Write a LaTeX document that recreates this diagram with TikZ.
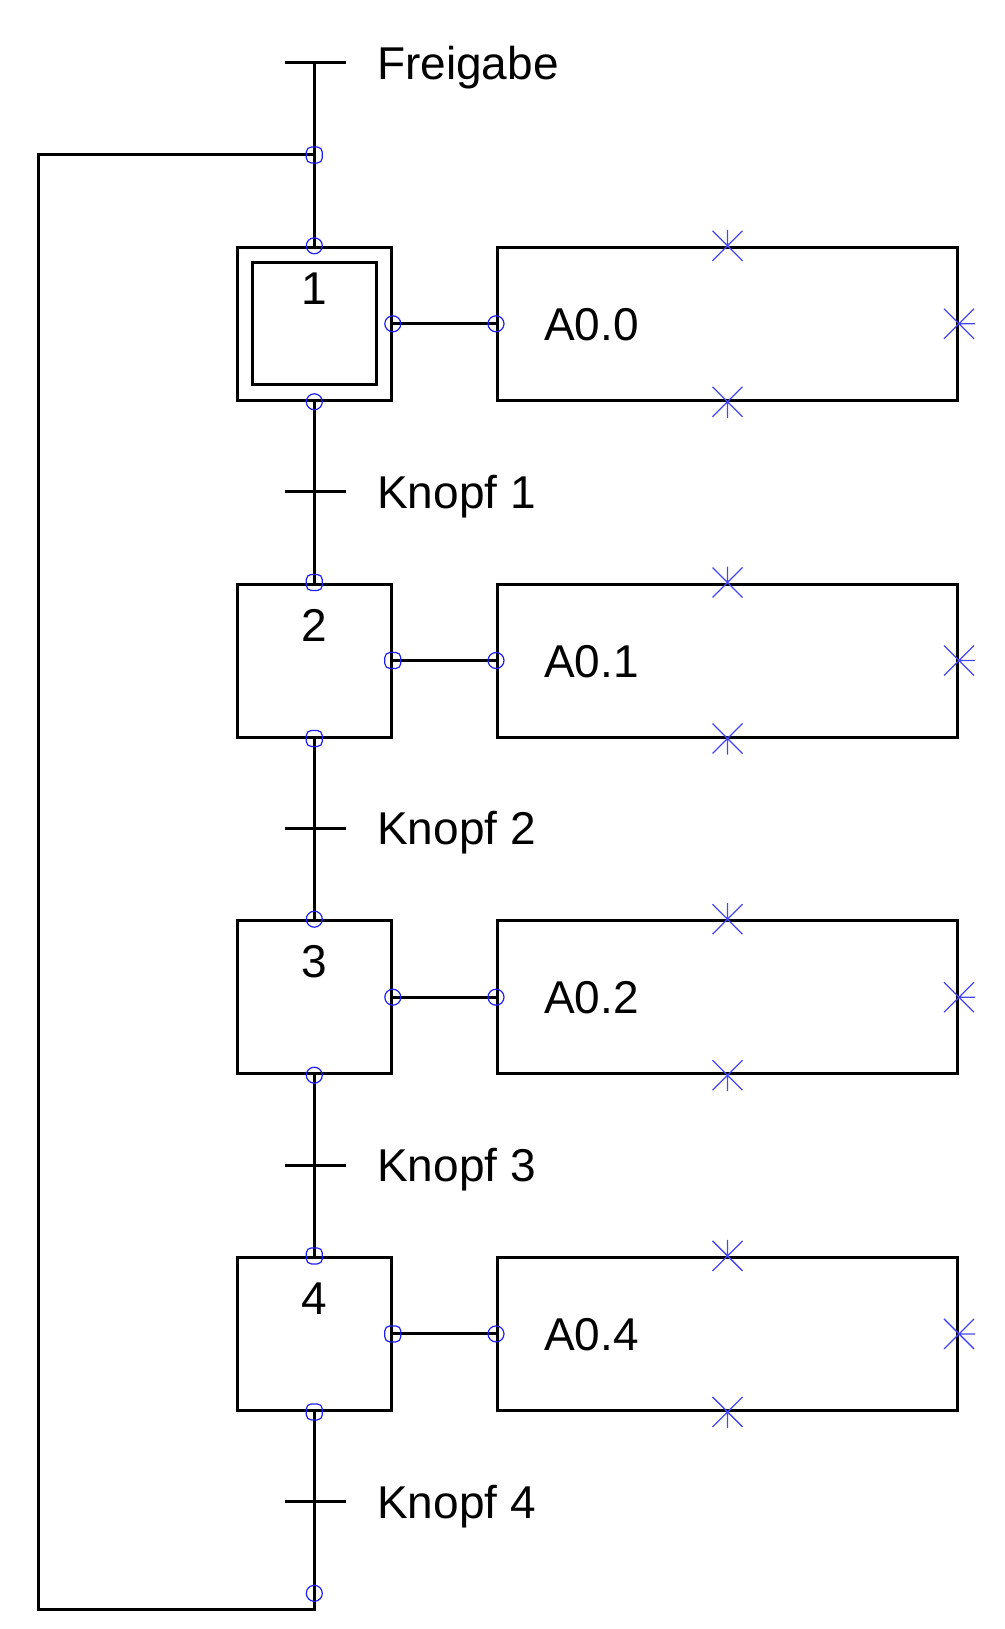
\documentclass[tikz,border=0pt]{standalone}
\usepackage{fontspec}
\usetikzlibrary{calc}
\setmainfont{Liberation Sans}
\definecolor{mkblue}{RGB}{30,30,245}
\definecolor{stblue}{RGB}{70,70,245}
\begin{document}
\begin{tikzpicture}[x=1pt,y=-1pt,
  ln/.style={line width=3pt},
  stepbox/.style={draw, line width=3pt, minimum width=154pt, minimum height=153pt, inner sep=0pt},
  actbox/.style={draw, line width=3pt, minimum width=460pt, minimum height=153pt, inner sep=0pt},
  txt/.style={inner sep=0pt, font=\fontsize{46}{55}\selectfont},
  cmark/.style={draw=mkblue, line width=1.2pt, circle, minimum size=16pt, inner sep=0pt},
  smark/.style={draw=mkblue, line width=1.2pt, rectangle, rounded corners=5pt, minimum size=16pt, inner sep=0pt},
  astar/.pic={\draw[stblue, line width=1.3pt] (-15,-15) -- (15,15) (-15,15) -- (15,-15) (0,0) -- (0,-16);}
]
\useasboundingbox (0,0) rectangle (1004,1629);

% top transition "Freigabe"
\coordinate (t0) at (314.3,63);
\coordinate (j) at (314.3,155);
\coordinate (bend) at (314.3,1609.5);
\coordinate (lb) at (38.5,1609.5);
\coordinate (lt) at (38.5,155);
\coordinate (bm) at (314.3,1593.3);
\draw[ln] (285,63) -- (346,63);
\node[txt, anchor=base west] (tf) at (377,79.5) {Freigabe};

\foreach \i/\act in {1/A0.0, 2/A0.1, 3/A0.2, 4/A0.4}{
  \pgfmathsetmacro{\T}{247.3+336.7*(\i-1)}
  \pgfmathsetmacro{\M}{\T+76.5}
  \pgfmathsetmacro{\B}{\T+57}
  \pgfmathsetmacro{\R}{\T+244.3}
  \pgfmathsetmacro{\RB}{\T+260.8}
  \pgfmathsetmacro{\AB}{\T+93}
  \node[stepbox] (s\i) at (314.3,\M) {};
  \node[actbox] (a\i) at (727.5,\M) {};
  \node[txt, anchor=base] (n\i) at (314.3,\B) {\i};
  \node[txt, anchor=base west] (l\i) at (544,\AB) {\act};
  \coordinate (t\i) at (314.3,\R);
  \draw[ln] (285,\R) -- (346,\R);
  \node[txt, anchor=base west] (k\i) at (377,\RB) {Knopf \i};
  \draw[ln] (s\i.east) -- (a\i.west);
}
% inner box of initial step
\node[draw, line width=3pt, minimum width=124.4pt, minimum height=121.7pt, inner sep=0pt] (s1i) at (s1) {};

% main line
\draw[ln] (t0) -- (s1.north);
\draw[ln] (s1.south) -- (s2.north);
\draw[ln] (s2.south) -- (s3.north);
\draw[ln] (s3.south) -- (s4.north);
\draw[ln] (s4.south) -- (bend) -- (lb) -- (lt) -- (j);

% markers
\node[smark] at (j) {};
\node[cmark] at (bm) {};
\foreach \i/\m in {1/cmark, 2/smark, 3/cmark, 4/smark}{
  \node[\m] at (s\i.north) {};
  \node[\m] at (s\i.south) {};
  \node[\m] at (s\i.east) {};
  \node[cmark] at (a\i.west) {};
  \pic at ($(a\i.north west)!0.5!(a\i.north east)$) {astar};
  \pic[rotate=180] at ($(a\i.south west)!0.5!(a\i.south east)$) {astar};
  \pic[rotate=-90] at (a\i.east) {astar};
}
\end{tikzpicture}
\end{document}
